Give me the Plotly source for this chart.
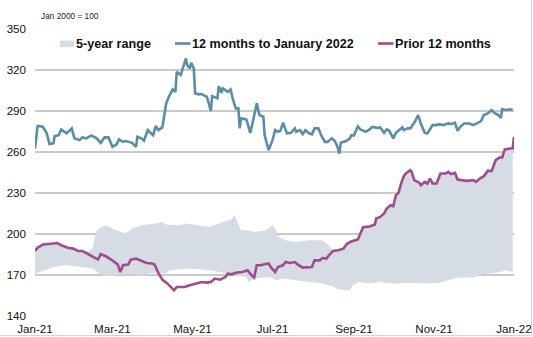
import plotly.graph_objects as go

# ---- data: index, Jan 2000 = 100 ----
current_dates = [
    "2021-01-01", "2021-01-03", "2021-01-07", "2021-01-10", "2021-01-12", "2021-01-15", "2021-01-16", "2021-01-19", "2021-01-21", "2021-01-25",
    "2021-01-29", "2021-01-31", "2021-02-04", "2021-02-06", "2021-02-09", "2021-02-13", "2021-02-17", "2021-02-20", "2021-02-23", "2021-02-26",
    "2021-03-01", "2021-03-04", "2021-03-06", "2021-03-09", "2021-03-11", "2021-03-14", "2021-03-16", "2021-03-19", "2021-03-20", "2021-03-23",
    "2021-03-25", "2021-03-28", "2021-04-01", "2021-04-03", "2021-04-05", "2021-04-08", "2021-04-11", "2021-04-13", "2021-04-16", "2021-04-18",
    "2021-04-19", "2021-04-22", "2021-04-26", "2021-04-27", "2021-04-29", "2021-04-30", "2021-05-02", "2021-05-03", "2021-05-06", "2021-05-08",
    "2021-05-12", "2021-05-15", "2021-05-16", "2021-05-20", "2021-05-21", "2021-05-23", "2021-05-24", "2021-05-28", "2021-05-30", "2021-06-01",
    "2021-06-03", "2021-06-05", "2021-06-06", "2021-06-07", "2021-06-11", "2021-06-12", "2021-06-14", "2021-06-16", "2021-06-19", "2021-06-21",
    "2021-06-24", "2021-06-25", "2021-06-28", "2021-07-01", "2021-07-03", "2021-07-05", "2021-07-07", "2021-07-09", "2021-07-12", "2021-07-15",
    "2021-07-18", "2021-07-19", "2021-07-22", "2021-07-24", "2021-07-26", "2021-07-29", "2021-07-31", "2021-08-02", "2021-08-05", "2021-08-07",
    "2021-08-10", "2021-08-12", "2021-08-15", "2021-08-17", "2021-08-19", "2021-08-21", "2021-08-22", "2021-08-26", "2021-08-29", "2021-08-30",
    "2021-09-01", "2021-09-04", "2021-09-06", "2021-09-10", "2021-09-13", "2021-09-15", "2021-09-19", "2021-09-21", "2021-09-24", "2021-09-26",
    "2021-09-28", "2021-10-01", "2021-10-03", "2021-10-08", "2021-10-09", "2021-10-12", "2021-10-14", "2021-10-17", "2021-10-20", "2021-10-22",
    "2021-10-25", "2021-10-27", "2021-10-31", "2021-11-03", "2021-11-05", "2021-11-08", "2021-11-12", "2021-11-14", "2021-11-17", "2021-11-19",
    "2021-11-21", "2021-11-24", "2021-11-28", "2021-12-01", "2021-12-04", "2021-12-07", "2021-12-09", "2021-12-12", "2021-12-15", "2021-12-17",
    "2021-12-20", "2021-12-22", "2021-12-23", "2021-12-26", "2021-12-29", "2021-12-31",
]
current_values = [
    262.6, 279, 278.5, 273.6, 265.8, 266.3, 271.6, 272.3, 276.5, 273.6,
    277.3, 270, 268.7, 270.7, 270, 272.1, 270, 266.7, 270.7, 270.7,
    263.8, 265.5, 269.2, 267.4, 268, 267, 266.7, 263.8, 271.1, 270,
    268.2, 276, 272.3, 279, 276, 278, 295.6, 300.4, 305.8, 304,
    318.7, 316.3, 328.5, 323.6, 321.2, 325.3, 321.2, 302.9, 302.2, 302.4,
    300.4, 290.1, 300.9, 299.2, 308.2, 303.3, 306.6, 304, 305.8, 298,
    291.9, 291.9, 277.3, 284.6, 283.8, 280.9, 274, 282.1, 295.6, 287,
    285.8, 272.3, 261.4, 268.7, 276, 274.8, 275.5, 281.4, 273.6, 274,
    277.3, 274.8, 276, 273.1, 276, 273.6, 272.9, 277.3, 277.3, 272.3,
    267.4, 267.4, 270, 268.7, 265, 258.9, 266.7, 268, 270, 272.3,
    272, 278.7, 276.5, 274.8, 276.5, 278.4, 277.7, 278, 274, 276.5,
    275.5, 270, 274, 278, 276, 277.3, 277.3, 281.4, 287, 280.9,
    274, 273.6, 279.7, 279.7, 280.4, 279.7, 280.9, 280.4, 281.4, 275.5,
    278.4, 280.9, 280.9, 279.7, 280.9, 282.6, 287, 288.2, 290.7, 288.7,
    287, 285, 291.2, 290.7, 291.2, 290.7,
]

prior_dates = [
    "2021-01-01", "2021-01-03", "2021-01-07", "2021-01-12", "2021-01-15", "2021-01-18", "2021-01-21", "2021-01-26", "2021-01-30", "2021-02-03",
    "2021-02-06", "2021-02-09", "2021-02-14", "2021-02-18", "2021-02-20", "2021-02-24", "2021-02-28", "2021-03-03", "2021-03-05", "2021-03-07",
    "2021-03-09", "2021-03-13", "2021-03-15", "2021-03-19", "2021-03-23", "2021-03-27", "2021-03-31", "2021-04-02", "2021-04-05", "2021-04-08",
    "2021-04-12", "2021-04-16", "2021-04-17", "2021-04-19", "2021-04-25", "2021-04-29", "2021-05-04", "2021-05-08", "2021-05-12", "2021-05-15",
    "2021-05-18", "2021-05-22", "2021-05-26", "2021-05-28", "2021-05-31", "2021-06-03", "2021-06-08", "2021-06-12", "2021-06-15", "2021-06-17",
    "2021-06-19", "2021-06-22", "2021-06-25", "2021-06-28", "2021-06-30", "2021-07-03", "2021-07-05", "2021-07-09", "2021-07-11", "2021-07-14",
    "2021-07-18", "2021-07-20", "2021-07-24", "2021-07-28", "2021-07-31", "2021-08-02", "2021-08-06", "2021-08-08", "2021-08-11", "2021-08-13",
    "2021-08-16", "2021-08-20", "2021-08-24", "2021-08-27", "2021-08-30", "2021-09-04", "2021-09-06", "2021-09-08", "2021-09-13", "2021-09-17",
    "2021-09-18", "2021-09-21", "2021-09-24", "2021-09-26", "2021-09-29", "2021-10-01", "2021-10-03", "2021-10-05", "2021-10-07", "2021-10-09",
    "2021-10-11", "2021-10-14", "2021-10-15", "2021-10-17", "2021-10-21", "2021-10-22", "2021-10-25", "2021-10-27", "2021-10-29", "2021-10-31",
    "2021-11-03", "2021-11-06", "2021-11-10", "2021-11-12", "2021-11-14", "2021-11-17", "2021-11-19", "2021-11-23", "2021-11-26", "2021-12-01",
    "2021-12-03", "2021-12-06", "2021-12-09", "2021-12-12", "2021-12-15", "2021-12-18", "2021-12-21", "2021-12-23", "2021-12-25", "2021-12-29",
    "2021-12-31", "2022-01-01",
]
prior_values = [
    187.6, 190, 192.3, 192.5, 193, 193.4, 191.8, 190, 189.3, 187.6,
    187.6, 186.1, 183.2, 181.3, 185.2, 183.7, 181.3, 178.8, 177.8, 172.2,
    177.1, 177.6, 181.3, 182, 180.3, 178.8, 178.4, 177.8, 171.5, 166.6,
    163.7, 160, 158.8, 161.2, 161.2, 162.5, 163.7, 164.9, 164.4, 164.9,
    167.4, 166.6, 168.5, 171, 170.5, 171.7, 172.2, 173.4, 169.8, 168.1,
    177.1, 177.1, 177.8, 178.4, 175.4, 172.2, 175.8, 177.1, 179.5, 178.8,
    179.5, 177.8, 175.4, 175.4, 175.8, 180.7, 180.7, 182.4, 182, 184.4,
    187.6, 188.1, 189.3, 193, 194.5, 196, 200, 205, 205.5, 207,
    211.3, 212.5, 215, 218.6, 221.1, 220.3, 228.4, 230.1, 237, 242.3,
    244.7, 246.7, 245.5, 239.4, 237.4, 235.7, 238.1, 236.9, 240.6, 236.9,
    236.9, 244.3, 244.3, 245.5, 243.8, 244.7, 239.9, 239.4, 238.9, 239.4,
    238.1, 240.6, 242.3, 246.2, 246.2, 254, 256, 256, 261.9, 262.6,
    262.6, 271.1,
]

# 5-year range: top edge where it lies above the prior-12-months line
range_high_dates = [
    "2021-02-14", "2021-02-15", "2021-02-17", "2021-02-19", "2021-02-24", "2021-03-04", "2021-03-11", "2021-03-16", "2021-03-24", "2021-04-03",
    "2021-04-08", "2021-04-11", "2021-04-21", "2021-04-26", "2021-05-14", "2021-05-24", "2021-05-30", "2021-06-02", "2021-06-04", "2021-06-07",
    "2021-06-12", "2021-06-17", "2021-06-26", "2021-07-01", "2021-07-03", "2021-07-06", "2021-07-11", "2021-07-19", "2021-07-29", "2021-08-08",
    "2021-08-13",
]
range_high_values = [
    190, 195.4, 202.7, 204, 206.4, 202.7, 200.3, 204, 206.4, 207.6,
    208.8, 207, 206.4, 207.6, 205.1, 208.8, 210.5, 213.5, 209, 202.7,
    202.7, 201.5, 202.7, 206.4, 204, 197.8, 195.4, 194.2, 195.4, 195.4,
    191.8,
]
range_low_dates = [
    "2021-01-01", "2021-01-07", "2021-01-15", "2021-01-25", "2021-02-04", "2021-02-14", "2021-02-19", "2021-02-27", "2021-03-11", "2021-03-22",
    "2021-04-01", "2021-04-11", "2021-04-13", "2021-04-29", "2021-05-14", "2021-05-29", "2021-06-11", "2021-06-13", "2021-06-17", "2021-06-29",
    "2021-07-04", "2021-07-09", "2021-07-19", "2021-07-29", "2021-08-08", "2021-08-16", "2021-08-19", "2021-08-26", "2021-08-29", "2021-08-31",
    "2021-09-05", "2021-09-13", "2021-09-21", "2021-10-01", "2021-10-13", "2021-10-26", "2021-11-05", "2021-11-13", "2021-11-20", "2021-12-01",
    "2021-12-08", "2021-12-18", "2021-12-26", "2021-12-31",
]
range_low_values = [
    171, 173, 175.9, 177.1, 175.9, 174.7, 171, 169, 171, 169.8,
    171.5, 171, 173.4, 174.7, 173.4, 171, 168.5, 164.9, 167.4, 168.5,
    166.1, 167.4, 166.1, 164.9, 163.7, 161.7, 160, 158.8, 158.8, 162.5,
    164.9, 163.7, 164.9, 163.7, 164.1, 163.7, 164.1, 166.6, 168.1, 168.1,
    170.5, 171.5, 173.4, 172.2,
]

y_ticks = [140, 170, 200, 230, 260, 290, 320, 350]
legend_labels = ["5-year range", "12 months to January 2022", "Prior 12 months"]

BAND = "#d6dce4"
TEAL = "#5b8da6"
PURPLE = "#a04b8c"
GRID = "#c9c9c9"
FONT = "Arial, Liberation Sans, sans-serif"

# top edge of the band: the prior-year line outside the window where another year is higher
top_x, top_y = [], []
for d, v in zip(prior_dates, prior_values):
    if d < range_high_dates[0]:
        top_x.append(d); top_y.append(v)
top_x += range_high_dates
top_y += range_high_values
for d, v in zip(prior_dates, prior_values):
    if range_high_dates[-1] < d <= range_low_dates[-1]:
        top_x.append(d); top_y.append(v)

band_x = top_x + range_low_dates[::-1]
band_y = top_y + range_low_values[::-1]

fig = go.Figure()
fig.add_trace(go.Scatter(x=band_x, y=band_y, fill="toself", fillcolor=BAND,
                         line=dict(width=0), mode="lines", hoverinfo="skip",
                         name=legend_labels[0]))
fig.add_trace(go.Scatter(x=prior_dates, y=prior_values, mode="lines",
                         line=dict(color=PURPLE, width=2.6), name=legend_labels[2]))
fig.add_trace(go.Scatter(x=current_dates, y=current_values, mode="lines",
                         line=dict(color=TEAL, width=2.6), name=legend_labels[1]))

L, R, T, B = 35, 19, 29, 21
W, H = 533, 337
PW, PH = W - L - R, H - T - B


def px(x):
    return (x - L) / PW


def py(y):
    return (H - B - y) / PH


shapes = [
    # legend swatches
    dict(type="rect", xref="paper", yref="paper", x0=px(60), x1=px(74), y0=py(47), y1=py(40.5),
         fillcolor=BAND, line=dict(width=0)),
    dict(type="line", xref="paper", yref="paper", x0=px(175), x1=px(190.5), y0=py(43.5), y1=py(43.5),
         line=dict(color=TEAL, width=2.6)),
    dict(type="line", xref="paper", yref="paper", x0=px(378), x1=px(393.5), y0=py(43.5), y1=py(43.5),
         line=dict(color=PURPLE, width=2.6)),
    # outer frame on the right and bottom
    dict(type="line", xref="paper", yref="paper", x0=px(531.5), x1=px(531.5), y0=py(335.5), y1=py(-2),
         line=dict(color="#d4d4d4", width=1)),
    dict(type="line", xref="paper", yref="paper", x0=px(-2), x1=px(531.5), y0=py(335.5), y1=py(335.5),
         line=dict(color="#d4d4d4", width=1)),
]

legend_font = dict(family=FONT, size=12.6, color="#111111")
annotations = [
    dict(text="Jan 2000 = 100", xref="paper", yref="paper", x=px(39), y=py(16),
         xanchor="left", yanchor="middle", showarrow=False,
         font=dict(family=FONT, size=8.3, color="#222222")),
    dict(text="<b>%s</b>" % legend_labels[0], xref="paper", yref="paper", x=px(74), y=py(43.5),
         xanchor="left", yanchor="middle", showarrow=False, font=legend_font),
    dict(text="<b>%s</b>" % legend_labels[1], xref="paper", yref="paper", x=px(190), y=py(43.5),
         xanchor="left", yanchor="middle", showarrow=False, font=legend_font),
    dict(text="<b>%s</b>" % legend_labels[2], xref="paper", yref="paper", x=px(393), y=py(43.5),
         xanchor="left", yanchor="middle", showarrow=False, font=legend_font),
]

fig.update_layout(
    width=W, height=H,
    margin=dict(l=L, r=R, t=T, b=B, pad=0, autoexpand=False),
    paper_bgcolor="white", plot_bgcolor="white",
    showlegend=False,
    shapes=shapes,
    annotations=annotations,
    font=dict(family=FONT, size=11.6, color="#111111"),
)
fig.update_xaxes(
    range=["2021-01-01", "2022-01-01"],
    tick0="2021-01-01", dtick="M2", tickformat="%b-%y",
    showgrid=False, zeroline=False, showline=False, ticks="",
    automargin=False, ticklabelstandoff=4,
    tickfont=dict(family=FONT, size=11.6, color="#111111"),
)
fig.update_yaxes(
    range=[140, 350], tickvals=y_ticks,
    showgrid=True, gridcolor=GRID, gridwidth=1.5,
    zeroline=False, showline=False, ticks="",
    automargin=False, ticklabelstandoff=8,
    tickfont=dict(family=FONT, size=11.6, color="#111111"),
)

fig.write_html("out.html")
